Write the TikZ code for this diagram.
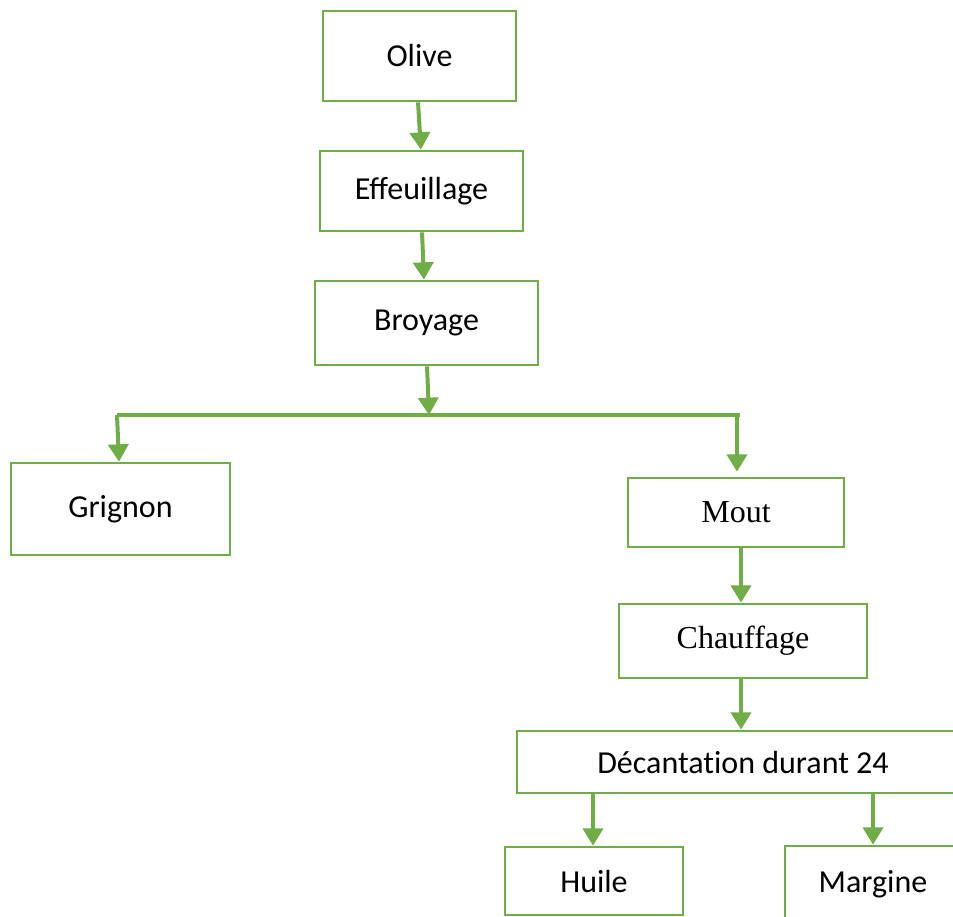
\documentclass[tikz,border=0pt]{standalone}
\usepackage{fontspec}
\setmainfont{Carlito}
\newfontfamily\timesfont{Liberation Serif}
\usetikzlibrary{arrows.meta}
\definecolor{vert}{RGB}{112,173,71}
\begin{document}
\begin{tikzpicture}[x=0.75pt,y=-0.75pt,
  box/.style={draw=vert, line width=2pt, fill=white, inner sep=0pt, font=\fontsize{24}{28}\selectfont},
  tbox/.style={box, font=\timesfont\fontsize{24}{28}\selectfont},
  arr/.style={draw=vert, line width=3pt, -{Triangle[width=15pt,length=13pt]}},
  bar/.style={draw=vert, line width=3pt}]
\useasboundingbox (0,0) rectangle (953,917);
\clip (0,0) rectangle (953,917);
\node[box, minimum width=144.75pt, minimum height=67.5pt] (olive) at (419.5,56){Olive};
\node[box, minimum width=152.25pt, minimum height=60pt] (eff) at (421.5,191){Effeuillage};
\node[box, minimum width=167.25pt, minimum height=63pt] (broy) at (426.5,323){Broyage};
\draw[arr] ([xshift=-1.1pt]olive.south) -- ([xshift=-0.4pt]eff.north);
\draw[arr] ([xshift=0.4pt]eff.south) -- ([xshift=-1.9pt]broy.north);
\coordinate (mid) at (429,415);
\coordinate (bl) at (117,415);
\coordinate (br) at (740,415);
\coordinate (bm) at (737,415);
\draw[arr] ([xshift=0.4pt]broy.south) -- (mid);
\draw[bar] (bl) -- (br);
\node[box, minimum width=164.25pt, minimum height=69pt] (grig) at (120.5,509){Grignon};
\draw[arr] (bl) -- ([xshift=-1.1pt]grig.north);
\node[tbox, minimum width=162pt, minimum height=51.75pt] (mout) at (736,512.5){Mout};
\draw[arr] (bm) -- ([xshift=0.75pt,yshift=3.75pt]mout.north);
\node[tbox, minimum width=186pt, minimum height=55.5pt] (chauf) at (743,641){Chauffage};
\draw[arr] ([xshift=3.75pt]mout.south) -- ([xshift=-1.5pt]chauf.north);
\node[box, minimum width=339pt, minimum height=46.5pt] (decant) at (743,762){D\'ecantat\kern0pt ion durant 24};
\draw[arr] ([xshift=-1.5pt]chauf.south) -- ([xshift=-1.5pt]decant.north);
\node[box, minimum width=133.5pt, minimum height=51pt] (huile) at (594,881){Huile};
\node[box, minimum width=132pt, minimum height=57pt] (marg) at (873,884){Margine};
\draw[arr] ([xshift=-112.5pt]decant.south) -- ([xshift=-0.75pt]huile.north);
\draw[arr] ([xshift=97.5pt]decant.south) -- (marg.north);

\end{tikzpicture}
\end{document}
